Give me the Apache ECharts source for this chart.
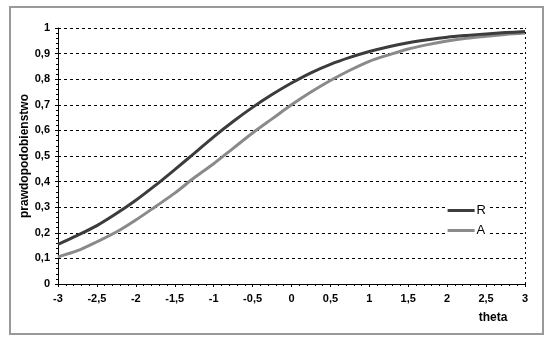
<!DOCTYPE html>
<html><head><meta charset="utf-8">
<script src="https://cdn.jsdelivr.net/npm/echarts@6/dist/echarts.min.js"></script>
<style>html,body{margin:0;padding:0;background:#fff}#c{width:550px;height:342px}</style>
</head><body><div id="c"></div>
<script>
const theta = [-3,-2.75,-2.5,-2.25,-2,-1.75,-1.5,-1.25,-1,-0.75,-0.5,-0.25,0,0.25,0.5,0.75,1,1.25,1.5,1.75,2,2.25,2.5,2.75,3];
const seriesR = [0.155,0.19,0.228,0.275,0.327,0.385,0.447,0.51,0.575,0.635,0.69,0.74,0.785,0.825,0.858,0.885,0.908,0.927,0.942,0.954,0.964,0.971,0.977,0.982,0.986];
const seriesA = [0.106,0.13,0.165,0.203,0.25,0.302,0.355,0.415,0.47,0.53,0.59,0.645,0.70,0.75,0.795,0.835,0.87,0.895,0.918,0.935,0.949,0.96,0.968,0.975,0.98];
const xName = 'theta';
const yName = 'prawdopodobienstwo';

const font = 'Liberation Sans, Arial, sans-serif';
const chart = echarts.init(document.getElementById('c'), null, {renderer:'canvas'});
const comma = v => String(Math.round(v*10)/10).replace('.', ',');
chart.setOption({
  animation:false,
  backgroundColor:'#fff',
  graphic:[{type:'rect', shape:{x:10,y:7,width:533,height:327}, style:{fill:'none', stroke:'#999', lineWidth:2}, z:-1}],
  grid:{left:58, right:25, top:28, bottom:58},
  legend:{
    right:60, top:202, orient:'vertical', itemGap:7, itemWidth:27, itemHeight:3,
    backgroundColor:'#fff', padding:[2,4,2,2],
    textStyle:{fontFamily:font, fontSize:13, color:'#000', padding:[0,0,0,-3]},
    data:[{name:'R', icon:'rect'},{name:'A', icon:'rect'}]
  },
  xAxis:{
    type:'value', min:-3, max:3, interval:0.5,
    name:xName, nameLocation:'end', nameGap:0, nameMoveOverlap:false,
    nameTextStyle:{fontFamily:font, fontWeight:'bold', fontSize:12, color:'#000', align:'center', verticalAlign:'top', padding:[28,64,0,0]},
    axisLine:{onZero:false, lineStyle:{color:'#000', width:1}},
    axisTick:{show:true, inside:false, length:3, lineStyle:{color:'#000'}},
    minorTick:{show:true, splitNumber:5, length:2, lineStyle:{color:'#000'}},
    axisLabel:{fontFamily:font, fontWeight:'bold', fontSize:11, color:'#000', margin:9, formatter:comma},
    splitLine:{show:false}
  },
  yAxis:{
    type:'value', min:0, max:1, interval:0.1,
    name:yName, nameLocation:'middle', nameGap:27, nameRotate:90, nameMoveOverlap:false,
    nameTextStyle:{fontFamily:font, fontWeight:'bold', fontSize:12, color:'#000'},
    axisLine:{show:true, onZero:false, lineStyle:{color:'#000', width:1}},
    axisTick:{show:true, length:3, lineStyle:{color:'#000'}},
    minorTick:{show:true, splitNumber:5, length:2, lineStyle:{color:'#000'}},
    axisLabel:{fontFamily:font, fontWeight:'bold', fontSize:11, color:'#000', margin:8, formatter:comma},
    splitLine:{show:true, lineStyle:{color:'#000', type:[3,3], width:1}}
  },
  series:[
    {name:'R', type:'line', data:theta.map((t,i)=>[t,seriesR[i]]), smooth:0.3, showSymbol:false,
     lineStyle:{color:'#3c3c3c', width:3}, itemStyle:{color:'#3c3c3c'}, z:3,
     markLine:{silent:true, symbol:'none', label:{show:false}, lineStyle:{color:'#000', type:[2,3], width:1}, data:[{xAxis:3}]}},
    {name:'A', type:'line', data:theta.map((t,i)=>[t,seriesA[i]]), smooth:0.3, showSymbol:false,
     lineStyle:{color:'#8a8a8a', width:3}, itemStyle:{color:'#8a8a8a'}, z:2}
  ]
});
</script></body></html>
